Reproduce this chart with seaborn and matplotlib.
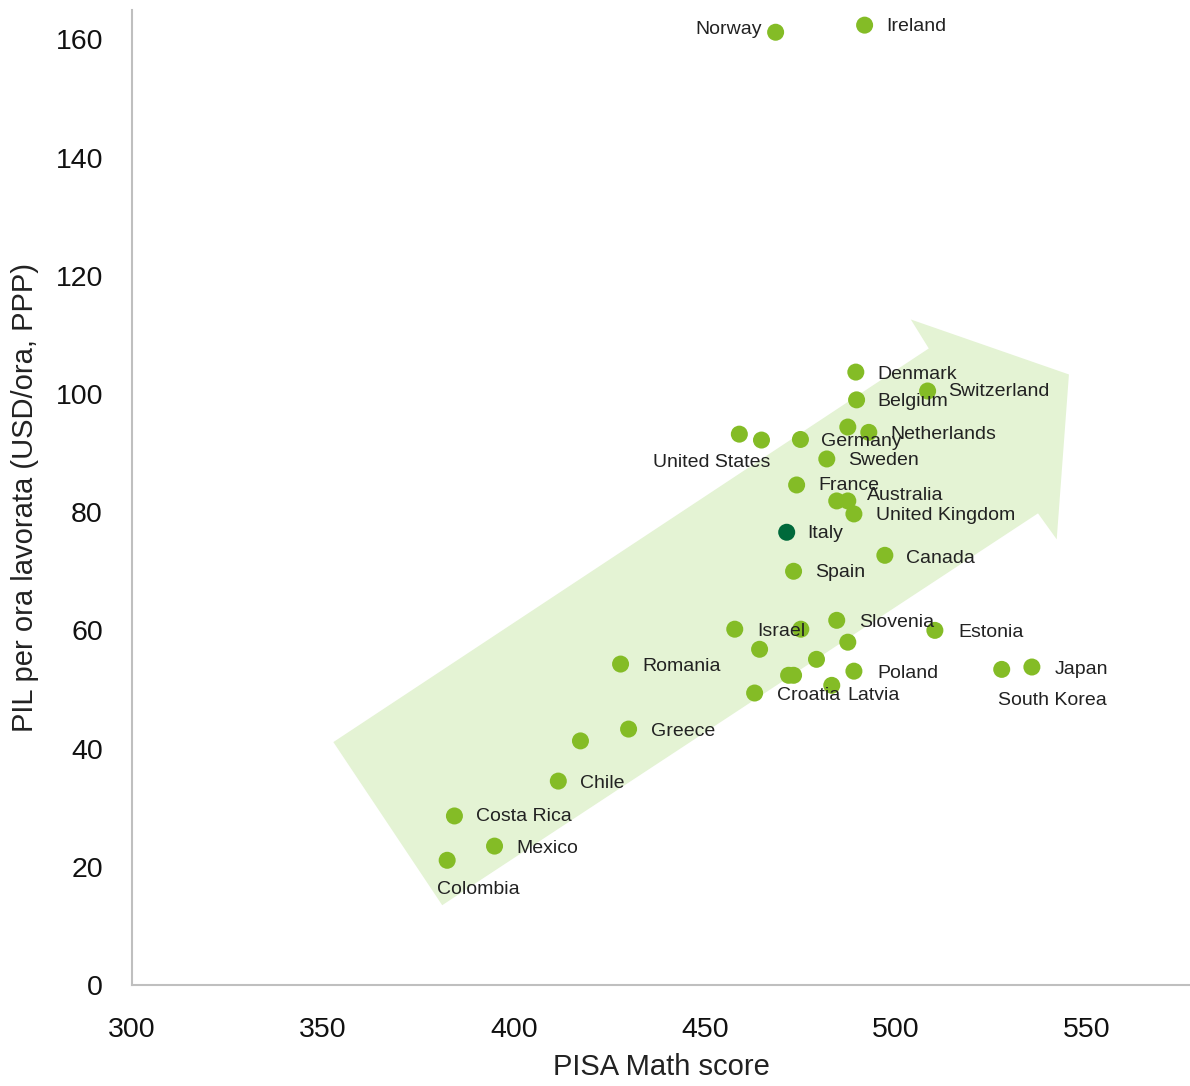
import pandas as pd
import matplotlib.pyplot as plt
import seaborn as sns
from matplotlib.patches import Polygon

# dati: punteggio PISA (matematica) e PIL per ora lavorata
countries = ['Norway', 'Ireland', 'Denmark', 'Switzerland', 'Belgium', 'Netherlands', 'n1',
             'Germany', 'United States', 'n2', 'Sweden', 'France', 'n3', 'Australia',
             'United Kingdom', 'Italy', 'Canada', 'Spain', 'Slovenia', 'Israel', 'n4',
             'Estonia', 'n5', 'n6', 'n7', 'Romania', 'n8', 'n9', 'Poland', 'South Korea',
             'Japan', 'Croatia', 'Latvia', 'Greece', 'n10', 'Chile', 'Costa Rica',
             'Mexico', 'Colombia']
pisa = [468.5, 491.8, 489.5, 508.3, 489.7, 492.9, 487.4,
        475.0, 459.0, 464.8, 481.9, 474.0, 484.5, 487.4,
        489.0, 471.4, 497.1, 473.2, 484.5, 457.8, 475.1,
        510.2, 487.4, 464.3, 479.2, 427.9, 471.9, 473.2, 489.0, 527.7,
        535.6, 463.0, 483.2, 430.0, 417.4, 411.6, 384.4,
        394.9, 382.5]
gdp_hour = [161.2, 162.4, 103.7, 100.5, 99.0, 93.5, 94.4,
            92.3, 93.2, 92.2, 89.0, 84.6, 81.9, 81.9,
            79.7, 76.6, 72.7, 70.0, 61.7, 60.2, 60.2,
            60.0, 58.0, 56.8, 55.1, 54.3, 52.4, 52.4, 53.1, 53.4,
            53.8, 49.4, 50.7, 43.3, 41.3, 34.5, 28.6,
            23.5, 21.1]

df = pd.DataFrame({'country': countries, 'pisa': pisa, 'gdp': gdp_hour})
df['group'] = ['Italy' if c == 'Italy' else 'Other' for c in df['country']]

# posizione etichette (offset in pixel, allineamento)
label_pos = {
    'Norway': (-14, 3, 'right'), 'Ireland': (22, -1, 'left'), 'Denmark': (22, -2, 'left'),
    'Switzerland': (21, -1, 'left'), 'Belgium': (21, -2, 'left'), 'Netherlands': (22, -2, 'left'),
    'Germany': (21, -2, 'left'), 'United States': (-28, -28, 'center'), 'Sweden': (21, -2, 'left'),
    'France': (22, -1, 'left'), 'Australia': (19, 5, 'left'), 'United Kingdom': (22, -2, 'left'),
    'Italy': (21, -1, 'left'), 'Canada': (21, -3, 'left'), 'Spain': (22, -1, 'left'),
    'Slovenia': (22, -2, 'left'), 'Israel': (22, -2, 'left'), 'Estonia': (23, -2, 'left'),
    'Romania': (22, -2, 'left'), 'Poland': (23, -2, 'left'), 'South Korea': (51, -31, 'center'),
    'Japan': (23, -2, 'left'), 'Croatia': (22, -2, 'left'), 'Latvia': (16, -10, 'left'),
    'Greece': (22, -2, 'left'), 'Chile': (22, -2, 'left'), 'Costa Rica': (22, -1, 'left'),
    'Mexico': (22, -2, 'left'), 'Colombia': (31, -29, 'center'),
}

# freccia decorativa di sfondo
arrow_shape = [(352.7, 41.1), (508.6, 107.7), (503.9, 112.6), (545.3, 103.3),
               (542.1, 75.4), (537.2, 79.8), (381.2, 13.5)]

sns.set_style('white')
plt.rcParams['font.family'] = ['Liberation Sans', 'DejaVu Sans']

fig = plt.figure(figsize=(11.9, 10.86), dpi=100)
ax = fig.add_axes([0.111, 0.093, 0.889, 0.898])

ax.add_patch(Polygon(arrow_shape, closed=True, facecolor='#E4F3D4', edgecolor='none', zorder=0))

sns.scatterplot(data=df, x='pisa', y='gdp', hue='group',
                palette={'Other': '#84BC26', 'Italy': '#00693B'},
                s=150, edgecolor='none', legend=False, ax=ax, zorder=3)

for _, r in df.iterrows():
    if r['country'] in label_pos:
        dx, dy, ha = label_pos[r['country']]
        ax.annotate(r['country'], (r['pisa'], r['gdp']), xytext=(dx, dy),
                    textcoords='offset pixels', ha=ha, va='center',
                    fontsize=14, color='#222222', zorder=4)

ax.set_xlim(300, 577)
ax.set_ylim(0, 165)
ax.set_xticks([300, 350, 400, 450, 500, 550])
ax.set_yticks(range(0, 161, 20))
ax.tick_params(axis='both', length=0, labelsize=20.5, colors='#111111')
ax.tick_params(axis='y', pad=21)
ax.tick_params(axis='x', pad=23)
ax.set_xlabel('PISA Math score', fontsize=21, color='#222222', labelpad=7)
ax.set_ylabel('PIL per ora lavorata (USD/ora, PPP)', fontsize=21, color='#222222', labelpad=12)

sns.despine(ax=ax)
for side in ['left', 'bottom']:
    ax.spines[side].set_color('#BFBFBF')
    ax.spines[side].set_linewidth(1.5)

fig.savefig('out.png', dpi=100)
